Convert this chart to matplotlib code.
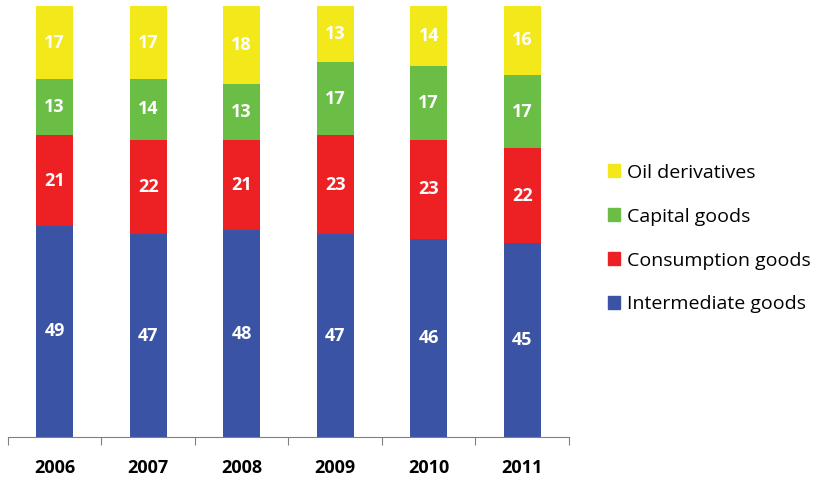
import matplotlib.pyplot as plt
import numpy as np
from matplotlib.patches import Patch

years = ['2006', '2007', '2008', '2009', '2010', '2011']
intermediate = [49, 47, 48, 47, 46, 45]
consumption = [21, 22, 21, 23, 23, 22]
capital = [13, 14, 13, 17, 17, 17]
oil = [17, 17, 18, 13, 14, 16]

series = [
    ('Intermediate goods', intermediate, '#3A53A4'),
    ('Consumption goods', consumption, '#ED2024'),
    ('Capital goods', capital, '#6ABD45'),
    ('Oil derivatives', oil, '#F2E81A'),
]

plt.rcParams['font.family'] = ['Open Sans', 'DejaVu Sans']

fig = plt.figure(figsize=(8.22, 4.82), dpi=100)
ax = fig.add_axes([0.0097, 0.0934, 0.6825, 0.8942])

x = np.arange(len(years))
bottom = np.zeros(len(years))
for name, vals, color in series:
    vals = np.array(vals)
    ax.bar(x, vals, width=0.4, bottom=bottom, color=color, edgecolor='none')
    for xi, b, v in zip(x, bottom, vals):
        ax.text(xi, b + v / 2, str(v), ha='center', va='center',
                color='white', fontsize=13, fontweight='bold')
    bottom += vals

ax.set_xlim(-0.5, len(years) - 0.5)
ax.set_ylim(0, 100)
for s in ['top', 'right', 'left']:
    ax.spines[s].set_visible(False)
ax.spines['bottom'].set_color('#808080')
ax.set_yticks([])
ax.set_xticks(np.arange(-0.5, len(years), 1))
ax.set_xticklabels([])
ax.tick_params(axis='x', length=6, color='#808080', direction='out')
for xi, yr in zip(x, years):
    ax.text(xi, -7.3, yr, ha='center', va='center', fontsize=13,
            fontweight='bold', color='black')

handles = [Patch(color=c, label=n) for n, _, c in reversed(series)]
fig.legend(handles=handles, loc='center left', bbox_to_anchor=(0.718, 0.505),
           frameon=False, fontsize=14, handlelength=0.65, handleheight=0.65,
           handletextpad=0.35, labelspacing=1.33)

fig.savefig('out.png', dpi=100)
